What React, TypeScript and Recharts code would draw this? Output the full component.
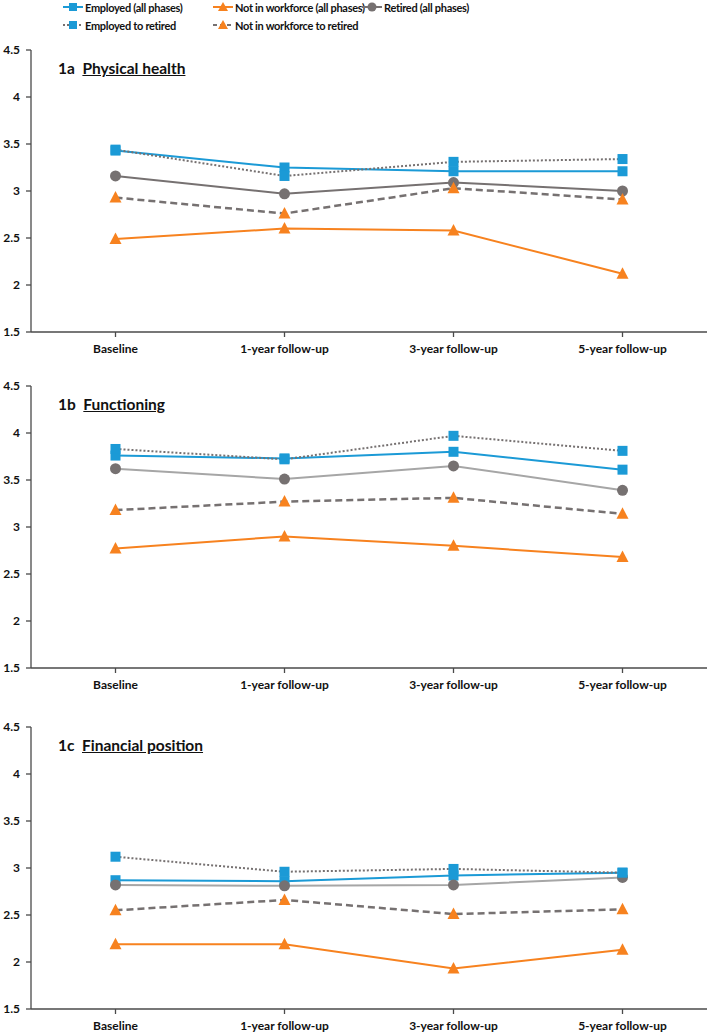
import { LineChart, Line, XAxis, YAxis } from 'recharts';

const categories = ['Baseline', '1-year follow-up', '3-year follow-up', '5-year follow-up'];
const yTicks = [1.5, 2, 2.5, 3, 3.5, 4, 4.5];

// 1a Physical health
const physEmployed = [3.43, 3.25, 3.21, 3.21];
const physNotInWork = [2.49, 2.6, 2.58, 2.12];
const physRetired = [3.16, 2.97, 3.09, 3.0];
const physEmpToRet = [3.44, 3.16, 3.31, 3.34];
const physNiwToRet = [2.93, 2.76, 3.03, 2.91];

// 1b Functioning
const funcEmployed = [3.76, 3.73, 3.8, 3.61];
const funcNotInWork = [2.77, 2.9, 2.8, 2.68];
const funcRetired = [3.62, 3.51, 3.65, 3.39];
const funcEmpToRet = [3.83, 3.72, 3.97, 3.81];
const funcNiwToRet = [3.18, 3.27, 3.31, 3.14];

// 1c Financial position
const finEmployed = [2.87, 2.86, 2.92, 2.95];
const finNotInWork = [2.19, 2.19, 1.93, 2.13];
const finRetired = [2.82, 2.81, 2.82, 2.9];
const finEmpToRet = [3.12, 2.96, 2.99, 2.95];
const finNiwToRet = [2.55, 2.66, 2.51, 2.56];

const BLUE = '#1B9AD6';
const ORANGE = '#F7821F';
const DARK_GRAY = '#767171';
const LIGHT_GRAY = '#A6A6A6';
const AXIS = '#4a4a4a';
const FONT = 'Lato, "Open Sans", sans-serif';

const buildRows = (emp: number[], niw: number[], ret: number[], e2r: number[], n2r: number[]) =>
  categories.map((name, i) => ({
    name,
    employed: emp[i],
    notInWork: niw[i],
    retired: ret[i],
    empToRet: e2r[i],
    niwToRet: n2r[i],
  }));

const squareDot = (props: any) => {
  const { cx, cy, index } = props;
  if (cx == null || cy == null) return <g key={index} />;
  return <rect key={index} x={cx - 5} y={cy - 5} width={10} height={10} fill={BLUE} />;
};

const triangleDot = (props: any) => {
  const { cx, cy, index } = props;
  if (cx == null || cy == null) return <g key={index} />;
  return <polygon key={index} points={`${cx},${cy - 6.5} ${cx + 6},${cy + 5} ${cx - 6},${cy + 5}`} fill={ORANGE} />;
};

const circleDot = (props: any) => {
  const { cx, cy, index } = props;
  if (cx == null || cy == null) return <g key={index} />;
  return <circle key={index} cx={cx} cy={cy} r={5.5} fill={DARK_GRAY} />;
};

const Panel: React.FC<{ top: number; code: string; title: string; data: any[]; retiredColor: string }> = ({
  top,
  code,
  title,
  data,
  retiredColor,
}) => {
  return (
    <div style={{ position: 'absolute', left: 0, top, width: 709, height: 318 }}>
      <LineChart width={709} height={318} data={data} margin={{ top: 10, right: 2, left: 0, bottom: 0 }}>
        <XAxis
          dataKey="name"
          scale="band"
          height={26}
          stroke={AXIS}
          strokeWidth={1.3}
          tickSize={5}
          tickMargin={7}
          tick={{ fill: '#111', fontSize: 12, fontWeight: 700, fontFamily: FONT }}
        />
        <YAxis
          domain={[1.5, 4.5]}
          ticks={yTicks}
          width={31}
          stroke={AXIS}
          strokeWidth={1.3}
          tickSize={5}
          tickMargin={6}
          tick={{ fill: '#111', fontSize: 12, fontWeight: 700, fontFamily: FONT }}
        />
        <Line dataKey="employed" stroke={BLUE} strokeWidth={2} dot={squareDot} isAnimationActive={false} />
        <Line dataKey="notInWork" stroke={ORANGE} strokeWidth={2} dot={triangleDot} isAnimationActive={false} />
        <Line dataKey="retired" stroke={retiredColor} strokeWidth={2} dot={circleDot} isAnimationActive={false} />
        <Line dataKey="empToRet" stroke={DARK_GRAY} strokeWidth={2} strokeDasharray="2 2" dot={squareDot} isAnimationActive={false} />
        <Line dataKey="niwToRet" stroke={DARK_GRAY} strokeWidth={2.5} strokeDasharray="7 4" dot={triangleDot} isAnimationActive={false} />
      </LineChart>
      <div
        style={{
          position: 'absolute',
          left: 58,
          top: 20,
          fontFamily: FONT,
          fontWeight: 700,
          fontSize: 15.5,
          lineHeight: '17px',
          color: '#111',
          whiteSpace: 'pre',
        }}
      >
        {code + '  '}
        <span style={{ textDecoration: 'underline' }}>{title}</span>
      </div>
    </div>
  );
};

const legendItems = [
  { label: 'Employed (all phases)', color: BLUE, dash: '', marker: 'square', x: 63, y: 0 },
  { label: 'Not in workforce (all phases)', color: ORANGE, dash: '', marker: 'triangle', x: 213, y: 0 },
  { label: 'Retired (all phases)', color: DARK_GRAY, dash: '', marker: 'circle', x: 362, y: 0 },
  { label: 'Employed to retired', color: DARK_GRAY, dash: '2 2', marker: 'square', x: 63, y: 18 },
  { label: 'Not in workforce to retired', color: DARK_GRAY, dash: '4 3', marker: 'triangle', x: 213, y: 18 },
];

const LegendIcon: React.FC<{ color: string; dash: string; marker: string }> = ({ color, dash, marker }) => (
  <svg width={20} height={12} style={{ display: 'block' }}>
    <line x1={0} y1={6} x2={20} y2={6} stroke={color} strokeWidth={2} strokeDasharray={dash || undefined} />
    {marker === 'square' && <rect x={6} y={2} width={8} height={8} fill={BLUE} />}
    {marker === 'triangle' && <polygon points="10,1 15,10 5,10" fill={ORANGE} />}
    {marker === 'circle' && <circle cx={10} cy={6} r={4.5} fill={DARK_GRAY} />}
  </svg>
);

const App = () => {
  const phys = buildRows(physEmployed, physNotInWork, physRetired, physEmpToRet, physNiwToRet);
  const func = buildRows(funcEmployed, funcNotInWork, funcRetired, funcEmpToRet, funcNiwToRet);
  const fin = buildRows(finEmployed, finNotInWork, finRetired, finEmpToRet, finNiwToRet);
  return (
    <div style={{ position: 'absolute', left: 0, top: 0, width: 709, height: 1034, overflow: 'hidden', background: '#fff' }}>
      {legendItems.map((it) => (
        <div
          key={it.label}
          style={{
            position: 'absolute',
            left: it.x,
            top: it.y,
            display: 'flex',
            alignItems: 'center',
            height: 14,
            fontFamily: FONT,
            fontWeight: 700,
            fontSize: 11,
            letterSpacing: -0.3,
            color: '#111',
            whiteSpace: 'nowrap',
          }}
        >
          <LegendIcon color={it.color} dash={it.dash} marker={it.marker} />
          <span style={{ marginLeft: 2 }}>{it.label}</span>
        </div>
      ))}
      <Panel top={40} code="1a" title="Physical health" data={phys} retiredColor={DARK_GRAY} />
      <Panel top={376} code="1b" title="Functioning" data={func} retiredColor={LIGHT_GRAY} />
      <Panel top={717} code="1c" title="Financial position" data={fin} retiredColor={LIGHT_GRAY} />
    </div>
  );
};

export default App;
